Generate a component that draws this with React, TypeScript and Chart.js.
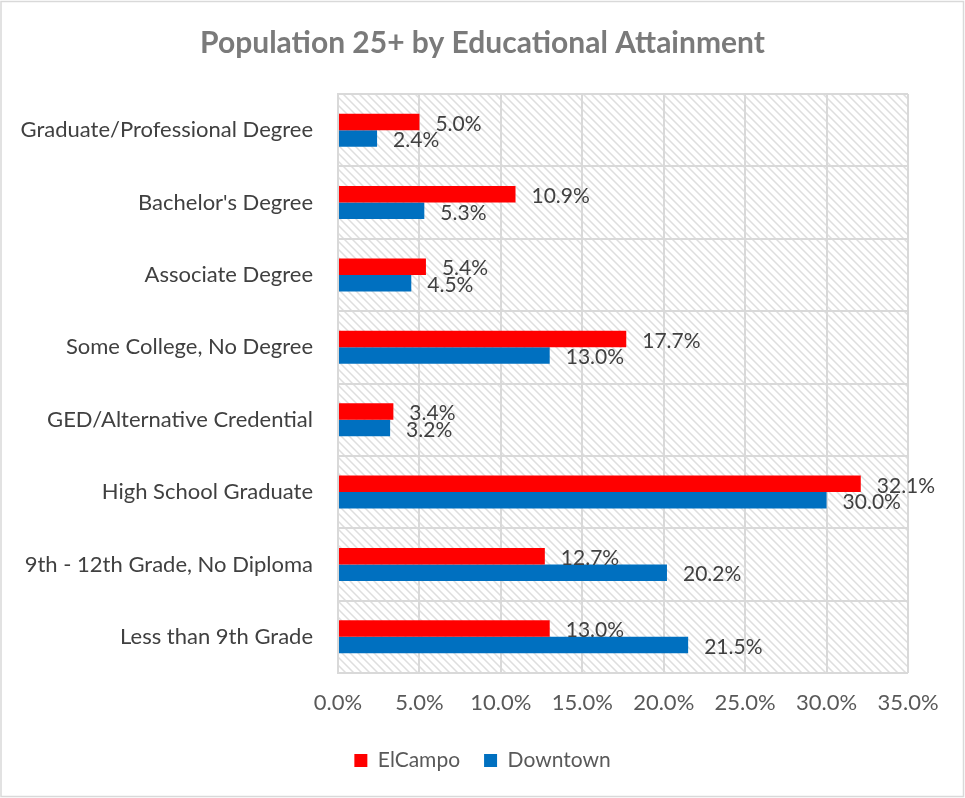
import React, { useEffect, useRef } from 'react';
import { Chart, registerables } from 'chart.js';
Chart.register(...registerables);

const categories = [
  'Graduate/Professional Degree',
  "Bachelor's Degree",
  'Associate Degree',
  'Some College, No Degree',
  'GED/Alternative Credential',
  'High School Graduate',
  '9th - 12th Grade, No Diploma',
  'Less than 9th Grade',
];
const elCampo = [5.0, 10.9, 5.4, 17.7, 3.4, 32.1, 12.7, 13.0];
const downtown = [2.4, 5.3, 4.5, 13.0, 3.2, 30.0, 20.2, 21.5];
const seriesNames = ['ElCampo', 'Downtown'];
const title = 'Population 25+ by Educational Attainment';
const xMin = 0;
const xMax = 35;
const xStep = 5;

const FONT = 'Lato, "Open Sans", sans-serif';

export default function App() {
  const ref = useRef<HTMLCanvasElement>(null);
  useEffect(() => {
    document.body.style.margin = '0';
    const canvas = ref.current!;

    const hatch = {
      id: 'hatch',
      beforeDraw(chart: any) {
        const { ctx, chartArea: a } = chart;
        ctx.save();
        ctx.fillStyle = '#ffffff';
        ctx.fillRect(0, 0, chart.width, chart.height);
        ctx.beginPath();
        ctx.rect(a.left, a.top, a.right - a.left, a.bottom - a.top);
        ctx.clip();
        ctx.beginPath();
        ctx.strokeStyle = '#dedede';
        ctx.lineWidth = 1.5;
        const h = a.bottom - a.top;
        for (let x = a.left - h; x < a.right + 8; x += 8) {
          ctx.moveTo(x, a.top);
          ctx.lineTo(x + h, a.bottom);
        }
        ctx.stroke();
        ctx.restore();
      },
      afterDraw(chart: any) {
        const { ctx } = chart;
        ctx.save();
        ctx.strokeStyle = '#d9d9d9';
        ctx.lineWidth = 1.5;
        ctx.strokeRect(1, 1.5, chart.width - 2.5, chart.height - 3);
        ctx.restore();
      },
    };

    const labels = {
      id: 'barLabels',
      afterDatasetsDraw(chart: any) {
        const { ctx } = chart;
        ctx.save();
        ctx.font = `21px ${FONT}`;
        ctx.fillStyle = '#404040';
        ctx.textAlign = 'left';
        ctx.textBaseline = 'middle';
        chart.data.datasets.forEach((ds: any, di: number) => {
          const meta = chart.getDatasetMeta(di);
          meta.data.forEach((el: any, i: number) => {
            const v = ds.data[i] as number;
            ctx.fillText(v.toFixed(1) + '%', el.x + 16, el.y + 2);
          });
        });
        ctx.restore();
      },
    };

    const chart = new Chart(canvas, {
      type: 'bar',
      data: {
        labels: categories,
        datasets: [
          { label: seriesNames[0], data: elCampo, backgroundColor: '#ff0000', categoryPercentage: 0.455, barPercentage: 1 },
          { label: seriesNames[1], data: downtown, backgroundColor: '#0070c0', categoryPercentage: 0.455, barPercentage: 1 },
        ],
      },
      options: {
        indexAxis: 'y',
        responsive: false,
        animation: false,
        layout: { padding: { left: 0, right: 0, top: 0, bottom: 17 } },
        plugins: {
          title: {
            display: true,
            text: title,
            color: '#7a7a7a',
            font: { family: FONT, size: 30, weight: 'bold' },
            padding: { top: 25, bottom: 33 },
          },
          legend: {
            position: 'bottom',
            labels: {
              boxWidth: 13,
              boxHeight: 13,
              color: '#595959',
              font: { family: FONT, size: 21 },
              padding: 24,
            },
          },
          tooltip: { enabled: false },
        },
        scales: {
          x: {
            min: xMin,
            max: xMax,
            ticks: {
              stepSize: xStep,
              color: '#595959',
              font: { family: FONT, size: 22 },
              padding: 17,
              callback: (v: any) => Number(v).toFixed(1) + '%',
            },
            grid: { color: '#d9d9d9', lineWidth: 2, drawTicks: false },
            border: { display: false },
            afterFit: (s: any) => { s.height = 53; },
          },
          y: {
            ticks: {
              color: '#404040',
              font: { family: FONT, size: 22 },
              padding: 25,
            },
            grid: { color: '#d9d9d9', lineWidth: 2, drawTicks: false },
            border: { display: true, color: '#d9d9d9', width: 2 },
            afterFit: (s: any) => { s.width = 338; },
          },
          yRight: {
            type: 'linear',
            axis: 'y',
            position: 'right',
            display: true,
            grid: { display: false, drawTicks: false },
            ticks: { display: false },
            border: { display: false },
            afterFit: (s: any) => { s.width = 57; },
          },
        },
      },
      plugins: [hatch, labels],
    });
    return () => chart.destroy();
  }, []);
  return <canvas ref={ref} width={965} height={798} style={{ display: 'block' }} />;
}
